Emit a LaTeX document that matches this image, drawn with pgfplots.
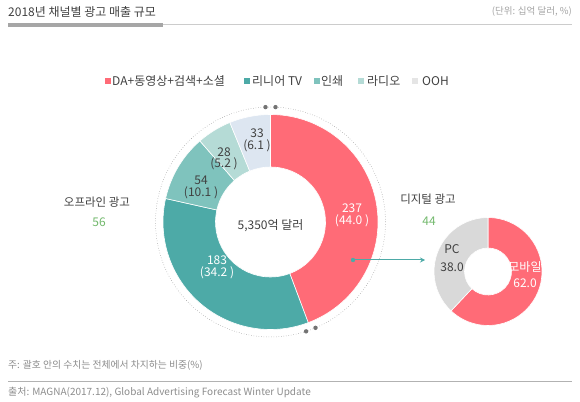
\documentclass[border=0pt]{standalone}
\usepackage{fontspec}
\setmainfont{Noto Sans CJK KR}
\usepackage{pgfplots}
\pgfplotsset{compat=1.18}
\usetikzlibrary{arrows.meta}
\definecolor{cRed}{HTML}{FF6B77}
\definecolor{cTeal}{HTML}{4DAAA7}
\definecolor{cPrint}{HTML}{7FC3BD}
\definecolor{cRadio}{HTML}{B5DBD6}
\definecolor{cOOH}{HTML}{DDE6F1}
\definecolor{cPC}{HTML}{D9D9D9}
\definecolor{cGreen}{HTML}{72B86C}
\definecolor{cText}{HTML}{404040}
\definecolor{cGray}{HTML}{8C8C8C}
% wedge: cx, cy, R, r, cumulative from, cumulative to, total, colour
\newcommand{\donutwedge}[8]{%
  \fill[#8, draw=white, line width=0.6pt]
    ([shift={({90-#5/#7*360}:#3pt)}]axis cs:#1,#2)
    arc[start angle={90-#5/#7*360}, end angle={90-#6/#7*360}, radius=#3pt]
    -- ([shift={({90-#6/#7*360}:#4pt)}]axis cs:#1,#2)
    arc[start angle={90-#6/#7*360}, end angle={90-#5/#7*360}, radius=#4pt]
    -- cycle;}
\begin{document}
\begin{tikzpicture}
\begin{axis}[at={(0,0)}, anchor=south west, width=580pt, height=401pt,
  scale only axis, xmin=0, xmax=580, ymin=0, ymax=401, hide axis, clip=false]
\path (axis cs:0,0) rectangle (axis cs:580,401);
% header
\node[anchor=west, font=\fontsize{12}{14}\selectfont, text=cText, inner sep=0] at (axis cs:8,389) {2018년 채널별 광고 매출 규모};
\node[anchor=east, font=\fontsize{9.5}{11}\selectfont, text=cGray!80, inner sep=0] at (axis cs:572,389) {(단위: 십억 달러, \%)};
\draw[color=black!20, line width=1pt] (axis cs:163,376.5) -- (axis cs:572,376.5);
\draw[color=black!35, line width=4pt] (axis cs:8,376) -- (axis cs:163,376);
% legend
\fill[cRed]   (axis cs:105,317) rectangle (axis cs:111,323);
\fill[cTeal]  (axis cs:244,317) rectangle (axis cs:250,323);
\fill[cPrint] (axis cs:314,317) rectangle (axis cs:320,323);
\fill[cRadio] (axis cs:358,317) rectangle (axis cs:364,323);
\fill[black!10] (axis cs:412,317) rectangle (axis cs:418,323);
\begin{scope}[every node/.style={anchor=west, inner sep=0, font=\fontsize{12}{14}\selectfont, text=cText}]
\node at (axis cs:112,320) {DA+동영상+검색+소셜};
\node at (axis cs:252,320) {리니어 TV};
\node at (axis cs:321,320) {인쇄};
\node at (axis cs:367,320) {라디오};
\node at (axis cs:422,320) {OOH};
\end{scope}
% main donut: 237, 183, 54, 28, 33 (total 535)
\draw[cGray, line width=0.5pt, dotted] (axis cs:270.5,179) circle[radius=115pt];
\donutwedge{270.5}{179}{107.5}{55}{0}{237}{535}{cRed}
\donutwedge{270.5}{179}{107.5}{55}{237}{420}{535}{cTeal}
\donutwedge{270.5}{179}{107.5}{55}{420}{474}{535}{cPrint}
\donutwedge{270.5}{179}{107.5}{55}{474}{502}{535}{cRadio}
\donutwedge{270.5}{179}{107.5}{55}{502}{535}{535}{cOOH}
\fill[black!55] ([shift={(92.5:115pt)}]axis cs:270.5,179) circle[radius=2.2pt];
\fill[black!55] ([shift={(87.5:115pt)}]axis cs:270.5,179) circle[radius=2.2pt];
\fill[black!55] ([shift={({90-237/535*360+2.5}:115pt)}]axis cs:270.5,179) circle[radius=2.2pt];
\fill[black!55] ([shift={({90-237/535*360-2.5}:115pt)}]axis cs:270.5,179) circle[radius=2.2pt];
\begin{scope}[every node/.style={inner sep=0, font=\fontsize{12}{14}\selectfont}]
\node[text=cText] at (axis cs:270.5,175) {5,350억 달러};
\node[text=white] at (axis cs:352,193) {237};
\node[text=white] at (axis cs:352,180) {(44.0 )};
\node[text=white] at (axis cs:217,141) {183};
\node[text=white] at (axis cs:217,128) {(34.2 )};
\node[text=cText] at (axis cs:201,221) {54};
\node[text=cText] at (axis cs:201,208) {(10.1 )};
\node[text=cText] at (axis cs:224,249) {28};
\node[text=cText] at (axis cs:224,237) {(5.2 )};
\node[text=cText] at (axis cs:257,268) {33};
\node[text=cText] at (axis cs:257,255) {(6.1 )};
\end{scope}
% side labels
\node[inner sep=0, font=\fontsize{11.5}{13}\selectfont, text=cText] at (axis cs:97,199) {오프라인 광고};
\node[inner sep=0, font=\fontsize{12}{14}\selectfont, text=cGreen] at (axis cs:99,179) {56};
\node[inner sep=0, font=\fontsize{11.5}{13}\selectfont, text=cText] at (axis cs:428,202) {디지털 광고};
\node[inner sep=0, font=\fontsize{12}{14}\selectfont, text=cGreen] at (axis cs:429,180) {44};
% arrow
\draw[cTeal, line width=1pt, -{Stealth[length=5pt,width=5pt]}] (axis cs:353,141) -- (axis cs:425,141);
\fill[cTeal] (axis cs:353,141) circle[radius=2.2pt];
% digital donut: mobile 62.0, PC 38.0
\donutwedge{488}{129.5}{54}{23.5}{0}{62}{100}{cRed}
\donutwedge{488}{129.5}{54}{23.5}{62}{100}{100}{cPC}
\begin{scope}[every node/.style={inner sep=0, font=\fontsize{12}{14}\selectfont}]
\node[text=cText] at (axis cs:452,152) {PC};
\node[text=cText] at (axis cs:452,134) {38.0};
\node[text=white] at (axis cs:525,134) {모바일};
\node[text=white] at (axis cs:525,118) {62.0};
\end{scope}
% footer
\node[anchor=west, inner sep=0, font=\fontsize{9.8}{11}\selectfont, text=cGray] at (axis cs:8,36) {주: 괄호 안의 수치는 전체에서 차지하는 비중(\%)};
\draw[color=black!30, line width=0.8pt] (axis cs:8,19.3) -- (axis cs:572,19.3);
\node[anchor=west, inner sep=0, font=\fontsize{10}{11}\selectfont, text=cGray] at (axis cs:8,8.5) {출처: MAGNA(2017.12), Global Advertising Forecast Winter Update};
\end{axis}
\end{tikzpicture}
\end{document}
